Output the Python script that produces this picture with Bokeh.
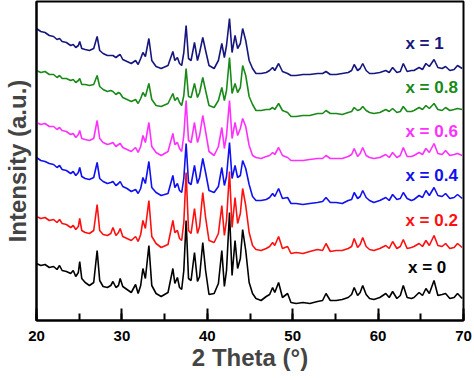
from bokeh.plotting import figure
from bokeh.models import SingleIntervalTicker, FixedTicker, Label, Range1d
from bokeh.embed import file_html
from bokeh.resources import INLINE

two_theta = [20.0, 20.5, 21.0, 21.5, 22.0, 22.4, 22.7, 23.0, 23.5, 24.0, 24.3, 24.6, 24.9, 25.06, 25.3, 25.7,
             26.2, 26.7, 27.1, 27.4, 27.8, 28.3, 28.7, 28.95, 29.3, 29.6, 29.8, 30.1, 30.6, 31.1, 31.6, 31.9,
             32.2, 32.46, 32.75, 33.16, 33.5, 34.0, 34.6, 35.4, 35.97, 36.2, 36.5, 36.75, 37.0, 37.25, 37.52,
             37.8, 38.1, 38.5, 38.85, 39.1, 39.47, 39.8, 40.2, 40.8, 41.3, 41.7, 42.0, 42.25, 42.6, 42.9, 43.25,
             43.55, 43.87, 44.14, 44.5, 44.9, 45.3, 45.7, 46.3, 46.9, 47.3, 47.65, 47.9, 48.35, 48.8, 49.4, 49.8,
             50.4, 51.2, 52.0, 52.9, 53.5, 53.9, 54.4, 55.1, 55.8, 56.5, 56.9, 57.2, 57.6, 57.9, 58.2, 58.6, 59.0,
             59.5, 60.2, 60.9, 61.3, 61.7, 62.2, 62.6, 62.95, 63.4, 63.9, 64.2, 64.8, 65.2, 65.6, 66.0, 66.55,
             67.0, 67.5, 67.9, 68.4, 68.9, 69.3, 69.85]

int_x0 = [57, 55, 56, 53, 54, 51, 55, 50, 49, 47, 50, 44, 48, 59, 42, 38, 35, 38, 70, 40, 34, 33, 35, 39, 33, 35,
          42, 34, 31, 28, 36, 27, 35, 52, 42, 75, 35, 27, 24, 28, 52, 37, 43, 33, 31, 50, 100, 42, 40, 68, 39, 44,
          78, 50, 26, 27, 37, 70, 34, 50, 108, 45, 80, 52, 62, 91, 70, 38, 27, 22, 20, 24, 26, 33, 28, 38, 23, 27,
          18, 17, 18, 17, 19, 20, 27, 20, 20, 21, 23, 26, 33, 25, 28, 35, 26, 22, 21, 23, 27, 23, 29, 22, 25, 35,
          23, 22, 23, 28, 25, 32, 27, 40, 25, 26, 27, 22, 23, 27, 22]

int_x02 = [104, 102, 103, 100, 101, 98, 101, 97, 96, 93, 95, 91, 94, 102, 90, 88, 87, 90, 116, 90, 86, 85, 87, 93,
           85, 88, 92, 84, 82, 80, 84, 79, 86, 100, 92, 120, 84, 77, 73, 76, 100, 88, 90, 82, 80, 98, 148, 90, 87,
           112, 87, 94, 128, 103, 80, 78, 87, 115, 85, 100, 149, 93, 123, 97, 107, 132, 115, 88, 75, 71, 70, 72,
           74, 78, 75, 84, 72, 74, 67, 68, 67, 69, 71, 70, 77, 69, 70, 70, 72, 74, 82, 73, 76, 83, 74, 71, 70, 72,
           75, 72, 79, 72, 74, 81, 72, 73, 74, 77, 74, 80, 75, 85, 75, 74, 77, 72, 73, 77, 73]

int_x04 = [163, 160, 159, 157, 156, 153, 155, 151, 150, 147, 149, 145, 148, 153, 144, 142, 141, 143, 158, 142, 139,
           137, 138, 139, 135, 137, 139, 134, 132, 129, 131, 127, 132, 143, 137, 159, 133, 128, 125, 127, 145, 133,
           137, 130, 128, 142, 177, 138, 136, 155, 137, 143, 162, 148, 130, 128, 134, 153, 135, 144, 178, 142, 155,
           143, 145, 160, 152, 136, 124, 120, 120, 121, 123, 127, 124, 132, 122, 123, 117, 117, 116, 117, 118, 119,
           123, 118, 118, 117, 120, 121, 128, 122, 124, 130, 123, 120, 118, 120, 123, 120, 126, 121, 122, 128, 122,
           120, 121, 125, 123, 130, 125, 133, 125, 124, 127, 122, 123, 126, 122]

int_x06 = [198, 196, 197, 194, 194, 191, 193, 190, 189, 186, 187, 183, 186, 190, 182, 181, 180, 182, 200, 182, 178,
           176, 177, 178, 174, 176, 177, 173, 171, 169, 173, 168, 174, 185, 178, 198, 174, 168, 165, 169, 187, 176,
           178, 172, 169, 185, 220, 180, 178, 198, 178, 185, 205, 189, 169, 165, 174, 193, 172, 185, 220, 182, 198,
           185, 192, 202, 194, 175, 165, 163, 162, 164, 165, 168, 166, 173, 165, 163, 160, 160, 160, 161, 162, 162,
           165, 162, 162, 162, 164, 166, 172, 164, 167, 173, 165, 163, 162, 163, 166, 163, 168, 163, 165, 173, 164,
           164, 165, 168, 166, 172, 168, 177, 167, 166, 170, 165, 166, 167, 165]

int_x08 = [250, 248, 249, 246, 246, 243, 245, 242, 242, 240, 241, 238, 240, 242, 236, 236, 235, 236, 245, 234, 231,
           229, 230, 229, 226, 228, 227, 223, 221, 219, 221, 217, 222, 228, 224, 237, 221, 215, 214, 217, 227, 220,
           223, 218, 215, 225, 252, 224, 223, 237, 223, 228, 243, 230, 215, 213, 220, 233, 220, 230, 263, 227, 237,
           228, 233, 255, 245, 224, 216, 210, 210, 211, 211, 213, 211, 217, 210, 208, 204, 204, 205, 205, 207, 207,
           210, 207, 207, 206, 208, 209, 213, 210, 211, 214, 210, 208, 207, 208, 211, 209, 212, 208, 209, 214, 209,
           209, 210, 213, 211, 215, 212, 217, 211, 210, 213, 210, 211, 212, 211]

int_x1 = [292, 289, 288, 285, 284, 281, 282, 279, 278, 275, 276, 273, 275, 279, 272, 271, 270, 272, 284, 270, 267,
          265, 265, 265, 263, 265, 266, 261, 259, 257, 260, 256, 262, 268, 264, 282, 260, 254, 252, 255, 269, 260,
          263, 257, 255, 268, 295, 262, 260, 278, 260, 268, 283, 270, 255, 252, 260, 277, 263, 275, 302, 268, 285,
          272, 277, 292, 280, 260, 252, 247, 247, 248, 250, 253, 250, 257, 249, 247, 245, 245, 246, 246, 247, 247,
          249, 246, 246, 247, 248, 250, 256, 250, 252, 257, 250, 247, 247, 248, 250, 248, 253, 248, 249, 257, 249,
          250, 250, 253, 251, 257, 254, 261, 253, 252, 254, 250, 251, 255, 252]

series_names = ["x = 0", "x = 0.2", "x = 0.4", "x = 0.6", "x = 0.8", "x = 1"]
series_values = [int_x0, int_x02, int_x04, int_x06, int_x08, int_x1]
series_colors = ["#000000", "#ff1010", "#1010f0", "#ff30ff", "#198a19", "#16167e"]
label_pos = [(63.5, 53), (63.2, 100), (63.2, 145), (63.2, 189), (63.2, 233), (63.2, 277)]

for s in series_values:
    assert len(s) == len(two_theta)

FONT = "Liberation Sans"

p = figure(width=474, height=380, output_backend="svg", toolbar_location=None, title=None,
           x_range=Range1d(20, 70), y_range=Range1d(0, 319),
           min_border_left=35, min_border_right=11, min_border_top=1, min_border_bottom=60)
p.grid.visible = False
p.outline_line_color = "black"
p.outline_line_width = 2

for name, vals, col in zip(series_names, series_values, series_colors):
    p.line(two_theta, vals, line_color=col, line_width=1.6)

for name, col, (lx, ly) in zip(series_names, series_colors, label_pos):
    p.add_layout(Label(x=lx, y=ly, text=name, text_color=col, text_font=FONT,
                       text_font_style="bold", text_font_size="17px",
                       text_align="left", text_baseline="middle"))

xa = p.xaxis[0]
xa.ticker = SingleIntervalTicker(interval=10, num_minor_ticks=2)
xa.major_tick_in = 12
xa.major_tick_out = 0
xa.minor_tick_in = 7
xa.minor_tick_out = 0
xa.major_tick_line_width = 2
xa.minor_tick_line_width = 2
xa.axis_line_width = 2
xa.major_label_text_font = FONT
xa.major_label_text_font_style = "bold"
xa.major_label_text_font_size = "15px"
xa.major_label_text_color = "black"
xa.major_label_standoff = 10
xa.axis_label = "2 Theta (°)"
xa.axis_label_text_font = FONT
xa.axis_label_text_font_style = "bold"
xa.axis_label_text_font_size = "24px"
xa.axis_label_standoff = 0

ya = p.yaxis[0]
ya.ticker = FixedTicker(ticks=[])
ya.major_tick_in = 0
ya.major_tick_out = 0
ya.minor_tick_in = 0
ya.minor_tick_out = 0
ya.axis_line_width = 2
ya.axis_label = "Intensity (a.u.)"
ya.axis_label_text_font = FONT
ya.axis_label_text_font_style = "bold"
ya.axis_label_text_font_size = "24px"
ya.axis_label_standoff = 6

open("out.html", "w").write(file_html(p, INLINE))
